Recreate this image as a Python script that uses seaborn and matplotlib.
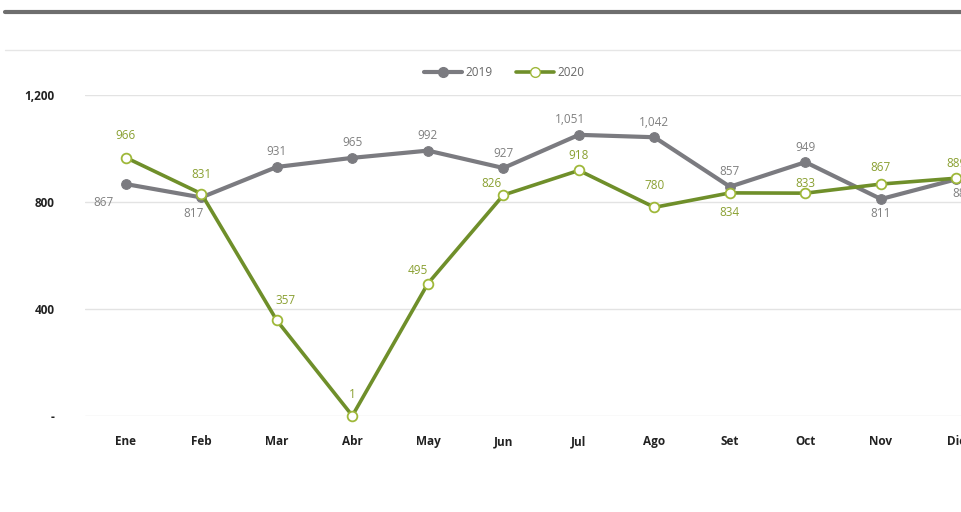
import matplotlib
matplotlib.use("Agg")
import matplotlib.pyplot as plt
import seaborn as sns
import pandas as pd
from matplotlib.lines import Line2D

months = ["Ene", "Feb", "Mar", "Abr", "May", "Jun", "Jul", "Ago", "Set", "Oct", "Nov", "Dic"]
values_2019 = [867, 817, 931, 965, 992, 927, 1051, 1042, 857, 949, 811, 885]
values_2020 = [966, 831, 357, 1, 495, 826, 918, 780, 834, 833, 867, 889]
y_ticks = [0, 400, 800, 1200]
y_tick_labels = ["-", "400", "800", "1,200"]

GREY = "#7b7b80"
GREEN = "#6f8f2a"
GREEN_EDGE = "#9fb83a"
LABEL_GREY = "#808080"
LABEL_GREEN = "#8aa032"

sns.set_theme(style="white")
plt.rcParams["font.family"] = ["Open Sans", "DejaVu Sans"]

df = pd.DataFrame({"mes": months, "2019": values_2019, "2020": values_2020})
df["pos"] = range(len(months))

fig = plt.figure(figsize=(9.61, 5.12), dpi=100)
ax = fig.add_axes([0.0885, 0.1875, 0.9115, 0.627])

sns.lineplot(data=df, x="pos", y="2019", ax=ax, color=GREY, linewidth=3,
             marker="o", markersize=7, markerfacecolor=GREY, markeredgecolor=GREY,
             clip_on=False, zorder=3)
sns.lineplot(data=df, x="pos", y="2020", ax=ax, color=GREEN, linewidth=2.6,
             marker="o", markersize=7, markerfacecolor="white", markeredgecolor=GREEN_EDGE,
             markeredgewidth=1.3, clip_on=False, zorder=4)

ax.set_xlim(-0.54, 11.06)
ax.set_ylim(0, 1200)
ax.set_yticks(y_ticks)
ax.set_yticklabels(y_tick_labels)
ax.set_xticks(range(len(months)))
ax.set_xticklabels(months)
ax.set_xlabel("")
ax.set_ylabel("")
ax.grid(axis="y", color="#e3e3e3", linewidth=1)
ax.grid(axis="x", visible=False)
for s in ax.spines.values():
    s.set_visible(False)
ax.tick_params(axis="both", length=0, labelsize=8.5, colors="#222222")
ax.tick_params(axis="x", pad=14)
ax.tick_params(axis="y", pad=22)
for t in ax.get_xticklabels() + ax.get_yticklabels():
    t.set_fontweight("bold")

# data-label offsets in pixels (dx, dy)
off_2019 = [(-22, -18), (-8, -16), (0, 15), (0, 15), (0, 15), (0, 15),
            (-9, 15), (0, 15), (0, 15), (0, 15), (0, -14), (6, -14)]
off_2020 = [(0, 22), (0, 19), (9, 20), (0, 21), (-10, 13), (-12, 12),
            (0, 15), (0, 22), (0, -20), (0, 10), (0, 17), (0, 15)]

for i, v in enumerate(values_2019):
    dx, dy = off_2019[i]
    ax.annotate(f"{v:,}", (i, v), xytext=(dx, dy), textcoords="offset pixels",
                ha="center", va="center", fontsize=8.5, color=LABEL_GREY,
                annotation_clip=False, zorder=6)
for i, v in enumerate(values_2020):
    dx, dy = off_2020[i]
    ax.annotate(f"{v:,}", (i, v), xytext=(dx, dy), textcoords="offset pixels",
                ha="center", va="center", fontsize=8.5, color=LABEL_GREEN,
                annotation_clip=False, zorder=6)

handles = [
    Line2D([], [], color=GREY, linewidth=3, marker="o", markersize=7,
           markerfacecolor=GREY, markeredgecolor=GREY),
    Line2D([], [], color=GREEN, linewidth=2.6, marker="o", markersize=7,
           markerfacecolor="white", markeredgecolor=GREEN_EDGE),
]
fig.legend(handles, ["2019", "2020"], loc="center", bbox_to_anchor=(0.525, 0.859),
           ncol=2, frameon=False, fontsize=8.5, labelcolor="#666666",
           handlelength=3.2, columnspacing=2.0, handletextpad=0.3)

# decorative rules above the plot
fig.add_artist(Line2D([0.005, 1.0], [1 - 12 / 512, 1 - 12 / 512], color="#6e6e6e",
                      linewidth=3, transform=fig.transFigure))
fig.add_artist(Line2D([0.005, 1.0], [1 - 50 / 512, 1 - 50 / 512], color="#e6e6e6",
                      linewidth=1, transform=fig.transFigure))

fig.savefig("out.png", dpi=100, facecolor="white")
